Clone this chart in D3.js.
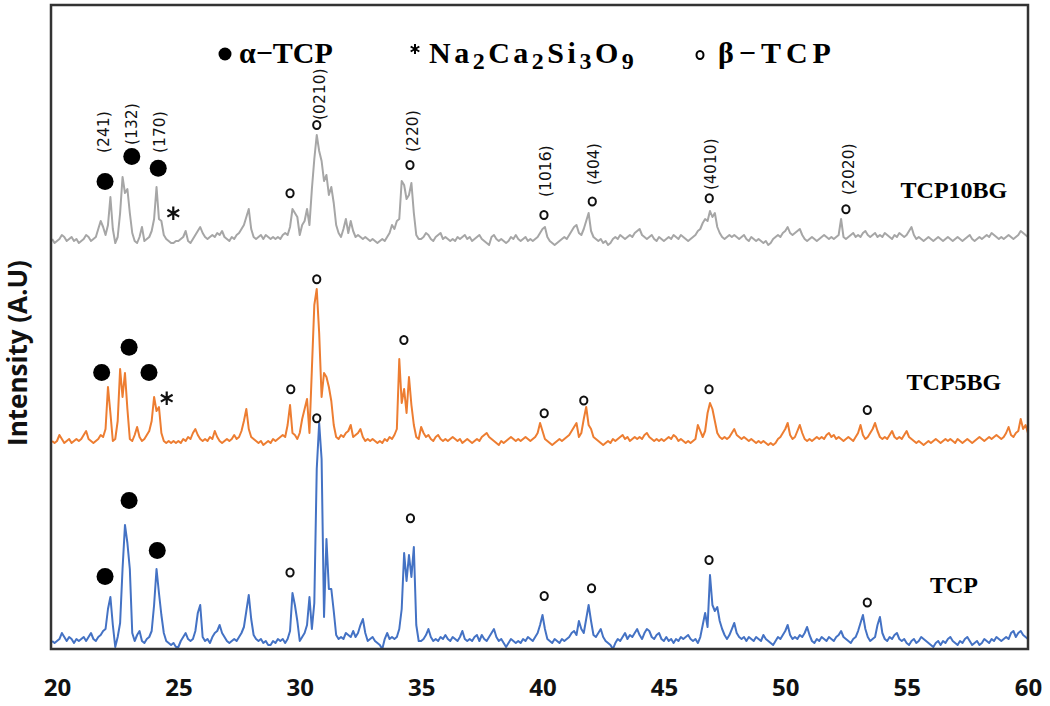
<!DOCTYPE html>
<html><head><meta charset="utf-8">
<script src="https://cdn.jsdelivr.net/npm/d3@7"></script>
<style>body{margin:0;background:#fff;} svg{display:block;}</style>
</head><body>
<svg id="chart" width="1050" height="706"></svg>
<script>
// 2-theta grid of the scans (degrees)
const thetaStart = 19.8, thetaStep = 0.1;

// Intensities (a.u.), one value per 0.1 deg from 19.8 to 60.0
const tcp = [4,3,
4,5,8,6,4,6,5,3,5,4,
5,6,4,6,8,5,4,6,7,9,
10,20,26,12,1,6,13,40,62,53,
40,8,4,7,9,4,3,5,6,9,
22,40,28,17,8,4,3,2,3,1,
1,4,6,8,5,4,5,9,18,22,
6,4,5,3,6,8,9,12,8,6,
4,3,4,5,4,6,8,11,19,27,
15,7,5,4,5,3,4,2,2,4,
3,5,4,5,3,5,9,28,22,14,
4,6,8,12,26,10,23,90,113,95,
16,55,30,30,19,7,5,6,5,8,
7,6,9,6,8,12,15,8,4,5,
6,4,3,2,0,5,8,5,6,5,
6,10,20,48,34,47,36,51,12,4,
4,5,7,10,6,4,5,4,6,5,
7,5,4,6,5,4,6,9,5,4,
5,4,6,7,4,7,5,4,6,8,
10,6,4,5,3,1,3,5,4,3,
4,3,5,4,6,5,4,6,8,12,
17,10,5,4,3,5,4,3,5,4,
5,6,8,9,7,14,10,8,15,22,
14,7,6,8,10,6,4,3,2,0,
3,5,4,6,8,5,7,6,8,10,
7,5,8,10,9,6,5,7,8,5,
4,6,4,5,3,5,4,6,5,6,
7,5,4,5,3,6,12,18,11,37,
22,19,21,14,10,7,5,7,10,13,
8,6,5,6,4,6,5,4,6,5,
4,7,5,4,3,2,4,6,5,7,
9,12,7,5,6,5,7,6,8,11,
7,4,3,5,4,6,5,4,6,5,
4,6,7,9,6,5,4,3,5,6,
9,13,17,10,6,4,5,6,12,16,
8,5,4,6,5,7,8,5,4,5,
3,2,4,5,3,4,6,5,4,3,
2,1,3,4,2,4,3,5,6,4,
3,2,4,3,5,6,4,2,3,4,
2,3,5,4,3,5,4,6,5,4,
5,6,5,8,9,6,8,9,7,6,
5];

const tcp5bg = [4,3,
4,7,5,3,4,5,3,4,5,4,
5,7,9,5,4,3,4,5,7,6,
10,31,18,4,5,14,40,26,38,20,
5,4,7,11,6,4,5,7,9,14,
26,19,21,8,4,3,4,3,4,3,
4,3,5,4,6,5,8,10,7,5,
4,5,4,6,5,9,6,4,3,4,
5,4,5,7,5,6,9,14,20,10,
6,5,4,3,4,2,3,4,3,5,
4,5,6,7,6,12,22,8,7,5,
8,15,20,25,8,40,72,80,58,26,
38,36,31,24,12,6,5,7,6,8,
9,12,6,7,8,10,6,4,5,4,
5,4,3,4,3,5,4,6,5,7,
10,45,23,30,18,36,22,12,6,5,
11,8,6,7,5,4,6,7,5,4,
5,4,5,6,5,4,5,3,4,5,
4,3,4,5,4,6,7,8,6,5,
4,3,2,4,3,4,5,6,5,4,
5,4,5,6,5,4,5,6,8,13,
9,5,4,3,2,3,4,5,4,5,
6,7,9,11,13,6,8,15,21,12,
10,6,5,4,3,2,3,4,3,5,
4,5,6,7,5,6,4,5,6,5,
6,5,7,8,6,5,4,5,4,5,
4,5,6,5,7,6,4,5,4,3,
4,3,4,5,12,9,6,9,18,23,
20,14,8,6,5,6,5,6,8,10,
7,6,5,6,5,4,5,4,3,4,
3,4,3,2,3,2,3,5,6,8,
10,13,7,5,6,9,12,8,5,4,
5,4,5,6,5,6,5,7,8,6,
7,5,6,5,4,5,6,5,4,6,
8,12,7,5,6,8,10,13,9,6,
5,6,5,7,9,6,5,6,5,7,
9,6,5,4,3,4,3,2,3,4,
3,4,5,4,3,4,5,4,5,4,
3,5,4,3,4,5,4,3,4,5,
6,5,4,5,6,5,6,7,6,5,
6,8,11,7,6,8,9,15,10,12,
8];

const tcp10bg = [5,3,
4,5,7,6,4,5,6,4,5,3,
4,5,7,6,4,5,6,10,14,11,
7,12,26,10,3,6,18,36,28,30,
18,8,4,3,6,11,4,5,6,9,
15,31,15,14,7,5,4,3,3,4,
4,5,6,9,4,3,5,7,9,11,
8,6,5,6,7,6,8,7,9,6,
5,4,6,5,7,8,10,12,16,20,
10,6,5,6,7,5,7,6,5,6,
5,6,5,7,8,7,11,20,18,16,
7,12,14,20,12,30,45,57,49,44,
34,37,27,31,23,12,8,6,10,15,
8,14,9,6,7,6,5,6,5,4,
5,4,3,4,5,4,6,8,12,10,
14,15,34,32,25,27,33,18,7,5,
5,6,8,7,5,4,6,7,8,5,
6,5,4,5,4,6,5,6,7,5,
6,4,5,6,7,5,4,3,2,6,
7,5,4,5,4,3,4,6,5,7,
5,4,5,6,4,5,4,5,6,8,
10,11,6,4,3,2,3,4,5,6,
5,7,9,11,12,8,7,10,14,18,
9,6,5,4,5,3,4,2,3,5,
6,5,7,6,5,6,7,6,8,9,
10,7,6,5,6,7,5,4,6,5,
4,5,6,5,7,6,5,7,6,5,
4,5,6,7,9,10,13,15,14,19,
16,18,11,8,6,5,6,7,6,7,
6,5,6,7,5,4,6,5,4,5,
4,3,4,2,3,5,6,7,6,8,
9,11,8,7,8,9,10,7,5,4,
5,6,5,4,5,6,7,6,5,6,
5,6,7,15,6,5,6,7,8,6,
7,6,8,9,7,6,7,8,6,7,
6,8,7,6,5,7,6,8,7,6,
7,9,11,7,5,6,5,4,5,6,
5,4,5,6,5,4,5,6,5,4,
5,6,5,4,5,6,7,5,4,5,
6,5,6,7,6,8,7,6,5,6,
5,6,7,6,5,6,7,9,8,7,
6];

const seriesNames = ["TCP", "TCP5BG", "TCP10BG"];
const seriesOffsets = [0, 100, 200];           // vertical stacking offsets (a.u.)
const seriesLabelTheta = [56.95, 56.95, 56.95];
const seriesLabelLevel = [28, 129.5, 225.5];
const xTicks = [20, 25, 30, 35, 40, 45, 50, 55, 60];

// Phase markers: [2theta, stacked intensity]
const alphaMarks = [[21.98,233.7],[23.08,246.2],[24.17,240.4],
                    [21.84,138.2],[22.97,150.9],[23.79,138.2],
                    [21.98,36.2],[22.97,74.2],[24.13,49.2]];
const silicateMarks = [[24.79,217.9],[24.52,125.4]];
const betaMarks = [[29.6,227.9],[30.7,262],[34.54,242],[40.06,217],[42.05,223.7],[46.87,225.4],[52.5,219.9],
                   [29.63,129.9],[30.7,184.9],[34.29,154.5],[40.07,117.9],[41.7,124.2],[46.86,129.9],[53.38,119.5],
                   [29.6,38.2],[30.7,115.4],[34.56,65.4],[40.07,26.5],[42.02,30.4],[46.86,44.5],[53.38,23.2]];

// Miller indices written above the TCP10BG pattern
const hklText  = ["(241)","(132)","(170)","(0210)","(220)","(1016)","(404)","(4010)","(2020)"];
const hklTheta = [21.94, 23.09, 24.24, 30.83, 34.67, 40.14, 42.12, 46.94, 52.63];
const hklLevel = [248, 252, 248, 264.5, 248.5, 226, 232, 229.5, 227];

const legendNames = ["α−TCP", "Na2Ca2Si3O9", "β−TCP"];

// ---------------------------------------------------------------
const svg = d3.select("#chart");
const box = {left: 51, right: 1028, top: 5, bottom: 649};
const x = d3.scaleLinear().domain([20, 60]).range([57, 1028]);
const y = d3.scaleLinear().domain([0, 322]).range([649, 5]);
const colors = ["#4472c4", "#ed7d31", "#a6a6a6"];
const allSeries = [tcp, tcp5bg, tcp10bg];

svg.append("defs").append("clipPath").attr("id", "plotclip")
  .append("rect").attr("x", box.left + 1).attr("y", box.top + 1)
  .attr("width", box.right - box.left - 2).attr("height", box.bottom - box.top - 2);

const plot = svg.append("g").attr("clip-path", "url(#plotclip)");
allSeries.forEach((vals, k) => {
  const line = d3.line()
    .x((d, i) => x(thetaStart + i * thetaStep))
    .y(d => y(d + seriesOffsets[k]));
  plot.append("path").datum(vals)
    .attr("d", line)
    .attr("fill", "none")
    .attr("stroke", colors[k])
    .attr("stroke-width", 2)
    .attr("stroke-linejoin", "round");
});

// frame
svg.append("rect")
  .attr("x", box.left).attr("y", box.top)
  .attr("width", box.right - box.left).attr("height", box.bottom - box.top)
  .attr("fill", "none").attr("stroke", "#333").attr("stroke-width", 2.5);

// x axis labels
const ax = svg.append("g").attr("transform", `translate(0,${box.bottom})`)
  .call(d3.axisBottom(x).tickValues(xTicks).tickSize(0).tickFormat(d3.format("d")));
ax.select(".domain").remove();
ax.selectAll("text")
  .attr("y", 47).attr("dy", 0)
  .attr("fill", "#111")
  .style("font-family", "'Open Sans', 'DejaVu Sans', sans-serif")
  .style("font-weight", "bold")
  .style("font-size", "24px");

// y title
svg.append("text")
  .attr("transform", "translate(27,353) rotate(-90)")
  .attr("text-anchor", "middle")
  .style("font-family", "'Open Sans', sans-serif")
  .style("font-weight", "bold").style("font-size", "26px")
  .attr("fill", "#111")
  .text("Intensity (A.U)");

// markers
svg.append("g").selectAll("circle").data(alphaMarks).join("circle")
  .attr("cx", d => x(d[0])).attr("cy", d => y(d[1])).attr("r", 8.5).attr("fill", "#000");
svg.append("g").selectAll("ellipse").data(betaMarks).join("ellipse")
  .attr("cx", d => x(d[0])).attr("cy", d => y(d[1])).attr("rx", 3.6).attr("ry", 4)
  .attr("fill", "none").attr("stroke", "#111").attr("stroke-width", 2);
svg.append("g").selectAll("path").data(silicateMarks).join("path")
  .attr("transform", d => `translate(${x(d[0])},${y(d[1])})`)
  .attr("d", d3.symbol(d3.symbolAsterisk, 130))
  .attr("fill", "none").attr("stroke", "#111").attr("stroke-width", 2.2);

// hkl labels
svg.append("g").selectAll("text").data(hklText).join("text")
  .attr("transform", (d, i) => `translate(${x(hklTheta[i])},${y(hklLevel[i])}) rotate(-90)`)
  .attr("text-anchor", "start").attr("dominant-baseline", "central")
  .style("font-family", "'DejaVu Sans', sans-serif").style("font-size", "15.5px")
  .attr("fill", "#111")
  .text(d => d);

// sample labels
svg.append("g").selectAll("text").data(seriesNames).join("text")
  .attr("x", (d, i) => x(seriesLabelTheta[i])).attr("y", (d, i) => y(seriesLabelLevel[i]))
  .attr("text-anchor", "middle")
  .style("font-family", "'Liberation Serif', serif").style("font-weight", "bold").style("font-size", "24px")
  .attr("fill", "#000")
  .text(d => d);

// legend
const lg = svg.append("g")
  .style("font-family", "'Liberation Serif', serif").style("font-weight", "bold")
  .attr("fill", "#000");
lg.append("circle").attr("cx", 225).attr("cy", 54).attr("r", 6.5).attr("fill", "#000");
lg.append("text").attr("x", 239).attr("y", 63).style("font-size", "30px").text(legendNames[0]);
lg.append("path").attr("transform", "translate(415,49)")
  .attr("d", d3.symbol(d3.symbolAsterisk, 70)).attr("fill", "none").attr("stroke", "#000").attr("stroke-width", 2);
const chem = lg.append("text").attr("x", 429).attr("y", 63).style("font-size", "30px")
  .style("letter-spacing", "3.5px");
legendNames[1].match(/[A-Za-z]+|\d+/g).forEach(tok => {
  const isNum = /\d/.test(tok);
  chem.append("tspan").text(tok)
    .style("font-size", isNum ? "24px" : "30px")
    .attr("dy", isNum ? 6 : -6);
});
chem.select("tspan").attr("dy", 0);
lg.append("ellipse").attr("cx", 700).attr("cy", 55).attr("rx", 3.5).attr("ry", 4)
  .attr("fill", "none").attr("stroke", "#000").attr("stroke-width", 2);
lg.append("text").attr("x", 718).attr("y", 63).style("font-size", "30px")
  .style("letter-spacing", "5px").text(legendNames[2]);
</script>
</body></html>
